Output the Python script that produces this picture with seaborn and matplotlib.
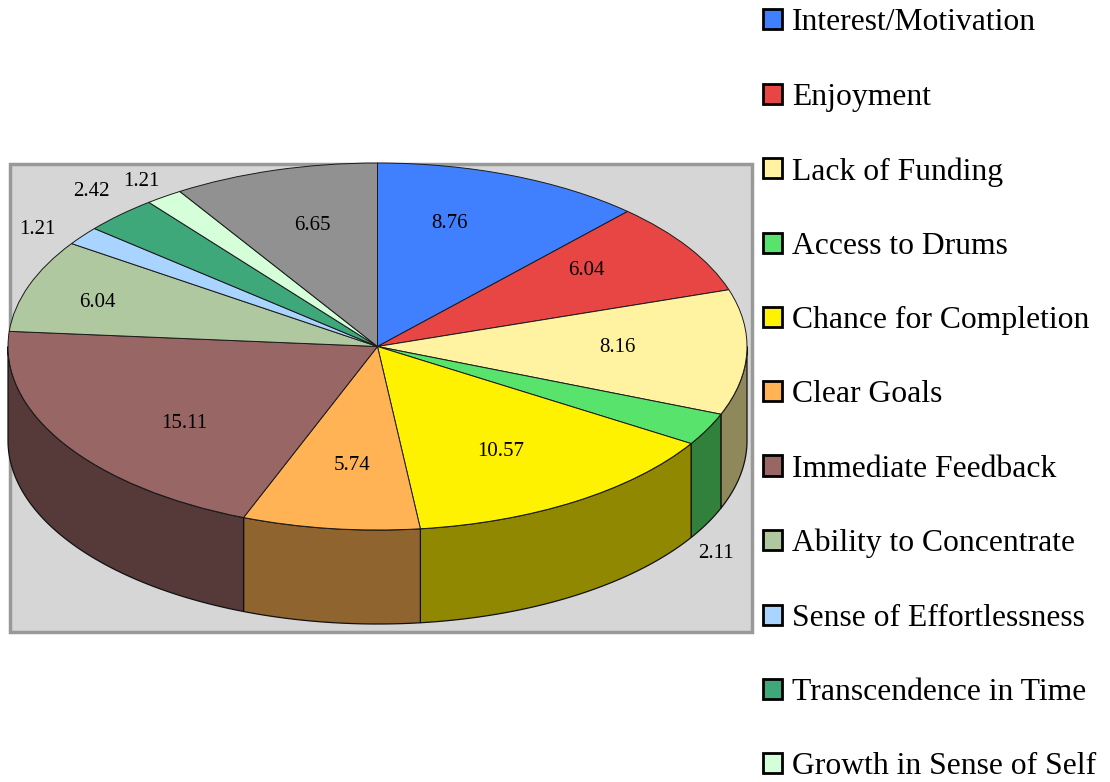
import numpy as np
import seaborn as sns
import matplotlib.pyplot as plt
from matplotlib.patches import Patch, Polygon, Rectangle

categories = ['Interest/Motivation', 'Enjoyment', 'Lack of Funding', 'Access to Drums',
              'Chance for Completion', 'Clear Goals', 'Immediate Feedback',
              'Ability to Concentrate', 'Sense of Effortlessness', 'Transcendence in Time',
              'Growth in Sense of Self']
values = [8.76, 6.04, 8.16, 2.11, 10.57, 5.74, 15.11, 6.04, 1.21, 2.42, 1.21, 6.65]
colors = ['#4080FF', '#E84545', '#FFF2A0', '#58E46C', '#FFF200', '#FFB354',
          '#996666', '#B0C8A0', '#A8D4FF', '#3FA87A', '#D4FFD8', '#919191']

sns.set_style('white')
plt.rcParams['font.family'] = ['Liberation Serif', 'DejaVu Serif']
palette = sns.color_palette(colors)
side_palette = [tuple(0.56 * c for c in col) for col in palette]

W, H = 1110, 782
cx, cy, rx, ry = 377.5, 346.5, 369.5, 183.5
depth = 94 / ry


def px(x, y):
    return (x - cx) / rx, (cy - y) / ry


fig = plt.figure(figsize=(W / 100, H / 100), dpi=100)
ax = fig.add_axes([0, 0, 1, 1])

wedges, _ = ax.pie(values, colors=palette, startangle=90, counterclock=False, radius=1,
                   wedgeprops={'edgecolor': '#1a1a1a', 'linewidth': 0.7, 'zorder': 3})
ax.set_aspect('auto')
ax.set_xlim(px(0, 0)[0], px(W, 0)[0])
ax.set_ylim(px(0, H)[1], px(0, 0)[1])

# grey plot area behind the pie
x0, y0 = px(10, 632)
x1, y1 = px(752, 164)
ax.add_patch(Rectangle((x0, y0), x1 - x0, y1 - y0, facecolor='#D6D6D6', edgecolor='#999999',
                       linewidth=2.5, zorder=1))

# rim of the disc, only the front half (90 to 270 deg clockwise from top) shows
edges = np.concatenate([[0], np.cumsum(values)]) / np.sum(values) * 360
for i in range(len(values)):
    a = max(edges[i], 90)
    b = min(edges[i + 1], 270)
    if a >= b:
        continue
    t = np.radians(np.linspace(a, b, 80))
    xs = np.sin(t)
    ys = np.cos(t)
    pts = np.column_stack([np.r_[xs, xs[::-1]], np.r_[ys, ys[::-1] - depth]])
    ax.add_patch(Polygon(pts, closed=True, facecolor=side_palette[i], edgecolor='#111111',
                         linewidth=0.9, zorder=2))

# data labels sit where the original chart put them
label_px = [(449, 223), (586, 270), (617, 347), (716, 553), (501, 451), (352, 465),
            (184, 423), (97, 302), (37, 230), (91, 192), (141, 181), (312, 225)]
for v, (lx, ly) in zip(values, label_px):
    tx, ty = px(lx, ly)
    ax.text(tx, ty, f'{v:.2f}', fontsize=15, color='black', ha='center', va='center', zorder=5)

handles = [Patch(facecolor=c, edgecolor='black', linewidth=2) for c in palette[:len(categories)]]
fig.legend(handles, categories, loc='upper left', bbox_to_anchor=(762.5 / W, 1 - 8.5 / H),
           frameon=False, fontsize=22.8, labelcolor='black', borderpad=0, borderaxespad=0,
           handlelength=0.6, handleheight=0.6, handletextpad=0.33, labelspacing=1.43)

plt.savefig('out.png', dpi=100)
